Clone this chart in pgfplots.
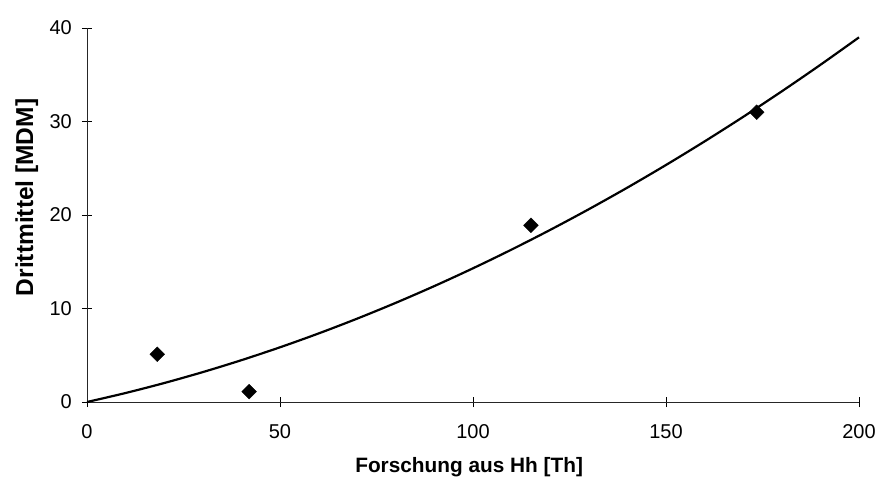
\documentclass[border=0pt]{standalone}
\usepackage{fontspec}
\setmainfont{Liberation Sans}
\usepackage{pgfplots}
\pgfplotsset{compat=1.18}
\begin{document}
\begin{tikzpicture}
\path[use as bounding box] (-87bp,-75bp) rectangle (789bp,402bp);
\begin{axis}[
  at={(0,0)}, anchor=south west,
  scale only axis, width=772bp, height=374bp,
  xmin=0, xmax=200, ymin=0, ymax=40,
  axis lines*=left,
  xtick={0,50,100,150,200}, ytick={0,10,20,30,40},
  minor tick num=0,
  tick align=center, major tick length=10bp,
  tick style={black, line width=0.7bp},
  axis line style={black!85, line width=0.8bp},
  /pgf/number format/assume math mode=true,
  tick label style={font=\fontsize{20bp}{24bp}\selectfont},
  yticklabel style={inner sep=0pt, anchor=east, xshift=-10bp},
  xticklabel style={inner sep=0pt, anchor=north, yshift=-17bp},
  xlabel={Forschung aus Hh [Th]},
  ylabel={Drittmittel [MDM]},
  xlabel style={font=\bfseries\fontsize{20.8bp}{25bp}\selectfont, at={(axis description cs:0.495,-0.1872)}, anchor=base},
  ylabel style={font=\bfseries\fontsize{24.5bp}{29bp}\selectfont, at={(axis description cs:-0.0699,0.547)}, anchor=base},
  clip=false,
]
\addplot[black, line width=2.2bp, smooth, no markers] coordinates {
(0,0) (10,0.962) (20,2.028) (30,3.198) (40,4.472) (50,5.85) (60,7.332)
(70,8.918) (80,10.608) (90,12.402) (100,14.3) (110,16.302) (120,18.408)
(130,20.618) (140,22.932) (150,25.35) (160,27.872) (170,30.498)
(180,33.228) (190,36.062) (200,39.0)
};
\addplot[only marks, mark=square*, mark options={rotate=45}, mark size=5.2bp, black] coordinates {
(18.2,5.1) (42,1.1) (115,18.9) (173.5,31.0)
};
\end{axis}
\end{tikzpicture}
\end{document}
